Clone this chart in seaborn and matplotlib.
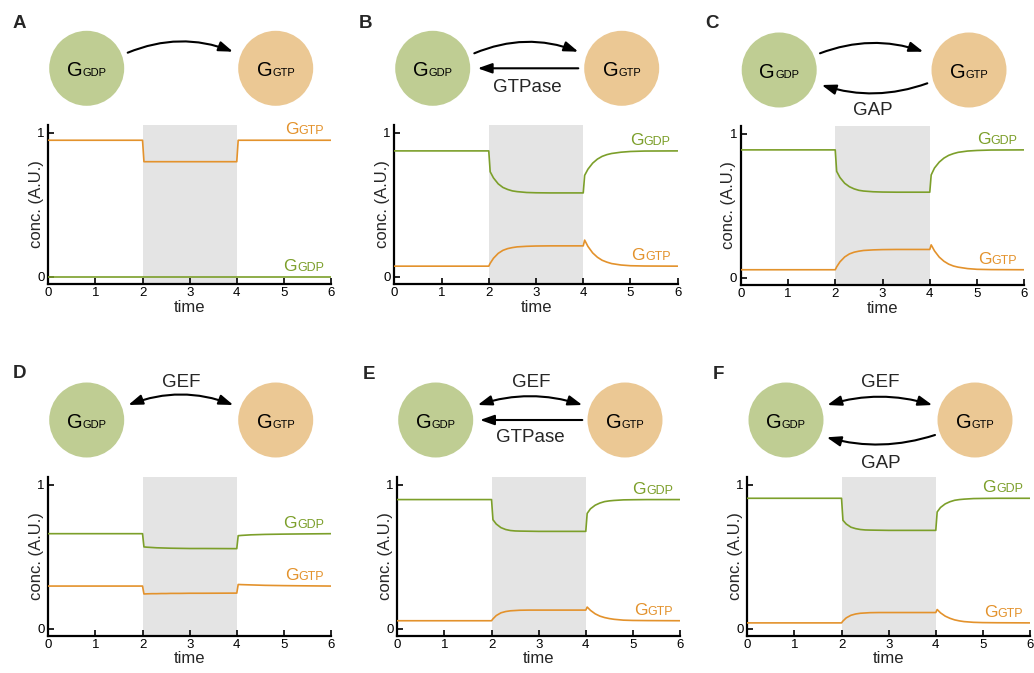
import matplotlib
matplotlib.use("Agg")
import matplotlib.pyplot as plt
import seaborn as sns
from matplotlib.patches import Circle, FancyArrowPatch

sns.set_theme(style="ticks")
plt.rcParams['font.family'] = ['Liberation Sans', 'DejaVu Sans']

# ---------------- data ----------------
time = [0.0, 2.0, 2.03, 2.1, 2.2, 2.3, 2.4, 2.5, 2.6, 2.8, 3.0, 3.3,
        4.0, 4.03, 4.1, 4.2, 4.3, 4.4, 4.5, 4.6, 4.8, 5.0, 5.3, 6.0]

A_gdp = [0.0, 0.0, 0.0, 0.0, 0.0, 0.0, 0.0, 0.0, 0.0, 0.0, 0.0, 0.0,
         0.0, 0.0, 0.0, 0.0, 0.0, 0.0, 0.0, 0.0, 0.0, 0.0, 0.0, 0.0]
A_gtp = [0.949, 0.949, 0.800, 0.800, 0.800, 0.800, 0.800, 0.800, 0.800, 0.800, 0.800, 0.800,
         0.800, 0.949, 0.949, 0.949, 0.949, 0.949, 0.949, 0.949, 0.949, 0.949, 0.949, 0.949]

B_gdp = [0.875, 0.875, 0.730, 0.687, 0.646, 0.621, 0.607, 0.597, 0.592, 0.586, 0.584, 0.583,
         0.583, 0.705, 0.748, 0.790, 0.818, 0.837, 0.849, 0.857, 0.866, 0.871, 0.874, 0.875]
B_gtp = [0.074, 0.074, 0.094, 0.129, 0.163, 0.184, 0.196, 0.203, 0.208, 0.212, 0.214, 0.215,
         0.215, 0.255, 0.211, 0.166, 0.136, 0.115, 0.102, 0.092, 0.082, 0.077, 0.075, 0.074]

C_gdp = [0.889, 0.889, 0.740, 0.697, 0.657, 0.633, 0.618, 0.608, 0.603, 0.598, 0.596, 0.595,
         0.595, 0.715, 0.763, 0.804, 0.832, 0.851, 0.863, 0.872, 0.881, 0.885, 0.888, 0.889]
C_gtp = [0.056, 0.056, 0.076, 0.111, 0.145, 0.166, 0.178, 0.185, 0.190, 0.194, 0.196, 0.197,
         0.197, 0.229, 0.187, 0.144, 0.115, 0.095, 0.082, 0.074, 0.064, 0.059, 0.057, 0.056]

D_gdp = [0.659, 0.659, 0.567, 0.565, 0.563, 0.561, 0.560, 0.559, 0.558, 0.557, 0.556, 0.556,
         0.555, 0.645, 0.647, 0.649, 0.651, 0.652, 0.653, 0.654, 0.655, 0.656, 0.657, 0.659]
D_gtp = [0.295, 0.295, 0.240, 0.241, 0.242, 0.242, 0.243, 0.243, 0.244, 0.244, 0.245, 0.245,
         0.246, 0.306, 0.305, 0.304, 0.303, 0.302, 0.301, 0.300, 0.299, 0.298, 0.297, 0.295]

E_gdp = [0.896, 0.896, 0.756, 0.726, 0.701, 0.688, 0.681, 0.678, 0.677, 0.676, 0.675, 0.675,
         0.675, 0.800, 0.832, 0.857, 0.872, 0.882, 0.887, 0.890, 0.894, 0.895, 0.896, 0.896]
E_gtp = [0.054, 0.054, 0.067, 0.090, 0.109, 0.118, 0.123, 0.125, 0.127, 0.128, 0.128, 0.128,
         0.128, 0.149, 0.126, 0.102, 0.086, 0.076, 0.069, 0.064, 0.058, 0.056, 0.055, 0.054]

F_gdp = [0.905, 0.905, 0.752, 0.726, 0.704, 0.694, 0.688, 0.685, 0.684, 0.683, 0.682, 0.682,
         0.682, 0.810, 0.841, 0.866, 0.881, 0.891, 0.896, 0.899, 0.903, 0.904, 0.905, 0.905]
F_gtp = [0.039, 0.039, 0.052, 0.074, 0.092, 0.101, 0.106, 0.108, 0.110, 0.111, 0.111, 0.111,
         0.111, 0.132, 0.109, 0.086, 0.071, 0.060, 0.053, 0.048, 0.043, 0.041, 0.040, 0.039]

panel_letters = ["A", "B", "C", "D", "E", "F"]
stim_window = [2, 4]
x_ticks = [0, 1, 2, 3, 4, 5, 6]
y_ticks = [0, 1]

# ---------------- style ----------------
GREEN_LINE = "#7c9f2a"
ORANGE_LINE = "#e3922c"
GREEN_FILL = "#bfcd93"
ORANGE_FILL = "#ebc894"
SHADE = "#e4e4e4"

W, H = 1034, 673
fig = plt.figure(figsize=(W / 100, H / 100), dpi=100)
renderer = fig.canvas.get_renderer()

# overlay axes in pixel coordinates (y downward) for the diagrams / text
ov = fig.add_axes([0, 0, 1, 1], zorder=5)
ov.set_xlim(0, W)
ov.set_ylim(H, 0)
ov.axis("off")


def gpair(x, y, sub, color, big, small, align):
    tb = ov.text(0, y, "G", fontsize=big, color=color, va="baseline", ha="left")
    ts = ov.text(0, y, sub, fontsize=small, color=color, va="baseline", ha="left")
    wb = tb.get_window_extent(renderer).width
    ws = ts.get_window_extent(renderer).width
    x0 = x - (wb + ws) / 2 if align == "center" else x - (wb + ws)
    tb.set_x(x0)
    ts.set_x(x0 + wb)


def arrow(p1, p2, rad, style="-|>"):
    if style == "-|>":
        st = "-|>,head_length=0.85,head_width=0.3"
    else:
        st = "<|-|>,head_length=0.85,head_width=0.3"
    a = FancyArrowPatch(p1, p2, connectionstyle=f"arc3,rad={rad}", arrowstyle=st,
                        mutation_scale=10, lw=1.5, color="black",
                        shrinkA=0, shrinkB=0)
    ov.add_patch(a)


# axes rectangles in pixels: left, top, right, bottom
rects = {
    "A": (48.3, 125, 331, 284),
    "B": (394.3, 125, 677.7, 284),
    "C": (740.7, 126, 1024.3, 285),
    "D": (48.3, 476.7, 331, 635.7),
    "E": (397.3, 476.7, 680, 635.7),
    "F": (747.3, 476.7, 1030, 635.7),
}
series = {
    "A": (A_gdp, A_gtp), "B": (B_gdp, B_gtp), "C": (C_gdp, C_gtp),
    "D": (D_gdp, D_gtp), "E": (E_gdp, E_gtp), "F": (F_gdp, F_gtp),
}

for key in panel_letters:
    l, t, r, b = rects[key]
    ax = fig.add_axes([l / W, (H - b) / H, (r - l) / W, (b - t) / H])
    ax.axvspan(stim_window[0], stim_window[1], color=SHADE, lw=0, zorder=0)
    gdp, gtp = series[key]
    sns.lineplot(x=time, y=gdp, ax=ax, color=GREEN_LINE, lw=1.2, zorder=3)
    sns.lineplot(x=time, y=gtp, ax=ax, color=ORANGE_LINE, lw=1.2, zorder=3)
    ax.set_xlim(0, 6)
    ax.set_ylim(-0.05, 1.055)
    ax.set_xticks(x_ticks)
    ax.set_yticks(y_ticks)
    ax.tick_params(direction="in", length=4, width=1.2, labelsize=9.5, pad=2.5,
                   colors="black")
    for s in ["top", "right"]:
        ax.spines[s].set_visible(False)
    for s in ["left", "bottom"]:
        ax.spines[s].set_linewidth(1.6)
        ax.spines[s].set_color("black")
    ax.set_xlabel("time", fontsize=12, labelpad=0)
    ax.set_ylabel("conc. (A.U.)", fontsize=12)
    ax.xaxis.set_label_coords(0.5, -0.098)
    ax.yaxis.set_label_coords(-0.016, 0.5)
    ax.set_facecolor("none")

    # curve labels at right end
    for vals, sub, col in ((gdp, "GDP", GREEN_LINE), (gtp, "GTP", ORANGE_LINE)):
        dx, dy = ax.transData.transform((5.85, vals[-1]))
        gpair(dx, H - dy - 6, sub, col, 12.5, 9, "right")

# ---------------- diagrams ----------------
circles = {
    "A": ((86.7, 68.3), (275.7, 68.3)),
    "B": ((432.7, 68.3), (621.7, 68.3)),
    "C": ((779.2, 70), (969, 70)),
    "D": ((86.7, 420), (275.7, 420)),
    "E": ((435.7, 420), (625, 420)),
    "F": ((786, 420), (975, 420)),
}
for key, (g, o) in circles.items():
    ov.add_patch(Circle(g, 37.5, color=GREEN_FILL, lw=0))
    ov.add_patch(Circle(o, 37.5, color=ORANGE_FILL, lw=0))
    gpair(g[0], g[1] + 7.7, "GDP", "black", 14.5, 8, "center")
    gpair(o[0], o[1] + 7.7, "GTP", "black", 14.5, 8, "center")

# A
arrow((127.7, 52.7), (233, 51.7), -0.2)
# B
arrow((474.3, 53.3), (578.3, 51.7), -0.2)
arrow((578.3, 68.3), (477.7, 68.3), 0)
ov.text(527.7, 91.7, "GTPase", fontsize=13.5, ha="center", va="baseline")
# C
arrow((820, 53.3), (923.3, 51.7), -0.18)
arrow((927.3, 83.3), (821.7, 85), -0.17)
ov.text(873.3, 115, "GAP", fontsize=13.5, ha="center", va="baseline")
# D
arrow((128.3, 405), (233.3, 405), -0.19, "<|-|>")
ov.text(181.7, 386.7, "GEF", fontsize=13.5, ha="center", va="baseline")
# E
arrow((477.7, 405), (582.3, 405), -0.16, "<|-|>")
ov.text(531, 386.7, "GEF", fontsize=13.5, ha="center", va="baseline")
arrow((582.3, 420), (480, 420), 0)
ov.text(530, 441.7, "GTPase", fontsize=13.5, ha="center", va="baseline")
# F
arrow((827.3, 405), (932.3, 405), -0.15, "<|-|>")
ov.text(880, 386.7, "GEF", fontsize=13.5, ha="center", va="baseline")
arrow((935, 435), (826.7, 437.3), -0.15)
ov.text(880.7, 468.3, "GAP", fontsize=13.5, ha="center", va="baseline")

# panel letters
letter_pos = {"A": (12.7, 28.3), "B": (358.3, 28.3), "C": (705, 27.5),
              "D": (12.7, 378.3), "E": (362.3, 379), "F": (712.7, 379)}
for k, (x, y) in letter_pos.items():
    ov.text(x, y, k, fontsize=13.5, fontweight="bold", ha="left", va="baseline")

fig.savefig("out.png", dpi=100)
